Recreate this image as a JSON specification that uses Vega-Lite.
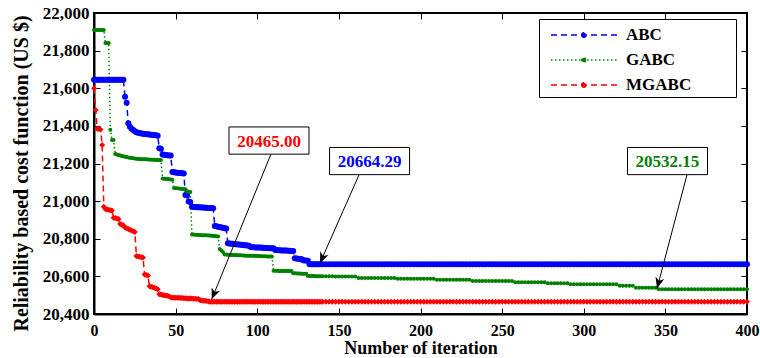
{
"$schema":"https://vega.github.io/schema/vega-lite/v6.json",
"width":653,"height":301,
"autosize":{"type":"none"},
"padding":{"left":94,"top":13,"right":13,"bottom":44},
"background":"white",
"config":{
 "view":{"stroke":"black","strokeWidth":2},
 "axis":{"labelFont":"Liberation Serif","labelFontSize":16,"labelFontWeight":"bold","labelColor":"black","labelFlush":false,"titleFont":"Liberation Serif","titleFontSize":18,"titleFontWeight":"bold","titleColor":"black","domainColor":"black","domainWidth":2,"tickColor":"black","tickWidth":1,"tickSize":-6,"grid":false},
 "legend":{"orient":"none","legendX":445,"legendY":6,"padding":4,"strokeColor":"black","fillColor":"white","symbolType":"M-3,0H3M-0.2,0A0.2,0.2 0 1,0 0.2,0A0.2,0.2 0 1,0 -0.2,0M13.15,0L13.15,0","symbolSize":484,"symbolStrokeWidth":1.5,"symbolOffset":29,"labelOffset":30,"labelFont":"Liberation Serif","labelFontSize":17,"labelFontWeight":"bold","labelColor":"black","rowPadding":5}
},
"datasets":{
"conv":[
{"i":0,"ABC":21645,"GABC":21910,"MGABC":21600},
{"i":1,"ABC":21645,"GABC":21910,"MGABC":21484},
{"i":2,"ABC":21645,"GABC":21910,"MGABC":21385},
{"i":3,"ABC":21645,"GABC":21910,"MGABC":21383},
{"i":4,"ABC":21645,"GABC":21910,"MGABC":21381},
{"i":5,"ABC":21645,"GABC":21910,"MGABC":21298},
{"i":6,"ABC":21645,"GABC":21910,"MGABC":20970},
{"i":7,"ABC":21645,"GABC":21840,"MGABC":20958},
{"i":8,"ABC":21645,"GABC":21840,"MGABC":20956},
{"i":9,"ABC":21645,"GABC":21840,"MGABC":20954},
{"i":10,"ABC":21645,"GABC":21380,"MGABC":20952},
{"i":11,"ABC":21645,"GABC":21325,"MGABC":20950},
{"i":12,"ABC":21645,"GABC":21325,"MGABC":20912},
{"i":13,"ABC":21645,"GABC":21250,"MGABC":20910},
{"i":14,"ABC":21645,"GABC":21248,"MGABC":20908},
{"i":15,"ABC":21645,"GABC":21245,"MGABC":20905},
{"i":16,"ABC":21645,"GABC":21243,"MGABC":20878},
{"i":17,"ABC":21645,"GABC":21240,"MGABC":20875},
{"i":18,"ABC":21645,"GABC":21238,"MGABC":20872},
{"i":19,"ABC":21555,"GABC":21236,"MGABC":20860},
{"i":20,"ABC":21523,"GABC":21234,"MGABC":20856},
{"i":21,"ABC":21414,"GABC":21232,"MGABC":20852},
{"i":22,"ABC":21395,"GABC":21230,"MGABC":20848},
{"i":23,"ABC":21385,"GABC":21229,"MGABC":20844},
{"i":24,"ABC":21378,"GABC":21228,"MGABC":20840},
{"i":25,"ABC":21372,"GABC":21226,"MGABC":20836},
{"i":26,"ABC":21366,"GABC":21225,"MGABC":20708},
{"i":27,"ABC":21364,"GABC":21224,"MGABC":20706},
{"i":28,"ABC":21362,"GABC":21224,"MGABC":20704},
{"i":29,"ABC":21360,"GABC":21223,"MGABC":20702},
{"i":30,"ABC":21358,"GABC":21223,"MGABC":20700},
{"i":31,"ABC":21357,"GABC":21222,"MGABC":20610},
{"i":32,"ABC":21356,"GABC":21222,"MGABC":20607},
{"i":33,"ABC":21355,"GABC":21221,"MGABC":20604},
{"i":34,"ABC":21354,"GABC":21221,"MGABC":20548},
{"i":35,"ABC":21353,"GABC":21220,"MGABC":20545},
{"i":36,"ABC":21352,"GABC":21220,"MGABC":20542},
{"i":37,"ABC":21351,"GABC":21220,"MGABC":20539},
{"i":38,"ABC":21350,"GABC":21219,"MGABC":20536},
{"i":39,"ABC":21348,"GABC":21219,"MGABC":20532},
{"i":40,"ABC":21281,"GABC":21218,"MGABC":20505},
{"i":41,"ABC":21278,"GABC":21218,"MGABC":20503},
{"i":42,"ABC":21248,"GABC":21120,"MGABC":20501},
{"i":43,"ABC":21246,"GABC":21119,"MGABC":20500},
{"i":44,"ABC":21245,"GABC":21118,"MGABC":20499},
{"i":45,"ABC":21244,"GABC":21117,"MGABC":20497},
{"i":46,"ABC":21243,"GABC":21116,"MGABC":20495},
{"i":47,"ABC":21242,"GABC":21115,"MGABC":20488},
{"i":48,"ABC":21155,"GABC":21114,"MGABC":20488},
{"i":49,"ABC":21153,"GABC":21070,"MGABC":20487},
{"i":50,"ABC":21152,"GABC":21069,"MGABC":20487},
{"i":51,"ABC":21151,"GABC":21068,"MGABC":20486},
{"i":52,"ABC":21150,"GABC":21067,"MGABC":20486},
{"i":53,"ABC":21149,"GABC":21066,"MGABC":20485},
{"i":54,"ABC":21148,"GABC":21065,"MGABC":20485},
{"i":55,"ABC":21147,"GABC":21064,"MGABC":20484},
{"i":56,"ABC":21032,"GABC":21063,"MGABC":20484},
{"i":57,"ABC":21030,"GABC":21052,"MGABC":20483},
{"i":58,"ABC":20998,"GABC":21050,"MGABC":20483},
{"i":59,"ABC":20996,"GABC":21048,"MGABC":20482},
{"i":60,"ABC":20970,"GABC":20822,"MGABC":20482},
{"i":61,"ABC":20969,"GABC":20822,"MGABC":20481},
{"i":62,"ABC":20969,"GABC":20821,"MGABC":20481},
{"i":63,"ABC":20968,"GABC":20821,"MGABC":20480},
{"i":64,"ABC":20967,"GABC":20820,"MGABC":20480},
{"i":65,"ABC":20967,"GABC":20820,"MGABC":20473},
{"i":66,"ABC":20966,"GABC":20819,"MGABC":20472},
{"i":67,"ABC":20966,"GABC":20819,"MGABC":20471},
{"i":68,"ABC":20965,"GABC":20818,"MGABC":20470},
{"i":69,"ABC":20965,"GABC":20818,"MGABC":20469},
{"i":70,"ABC":20964,"GABC":20817,"MGABC":20468},
{"i":71,"ABC":20964,"GABC":20817,"MGABC":20465},
{"i":72,"ABC":20963,"GABC":20816,"MGABC":20465},
{"i":73,"ABC":20962,"GABC":20815,"MGABC":20465},
{"i":74,"ABC":20868,"GABC":20814,"MGABC":20465},
{"i":75,"ABC":20866,"GABC":20813,"MGABC":20465},
{"i":76,"ABC":20864,"GABC":20812,"MGABC":20465},
{"i":77,"ABC":20862,"GABC":20745,"MGABC":20465},
{"i":78,"ABC":20860,"GABC":20738,"MGABC":20465},
{"i":79,"ABC":20858,"GABC":20730,"MGABC":20465},
{"i":80,"ABC":20856,"GABC":20716,"MGABC":20465},
{"i":81,"ABC":20854,"GABC":20716,"MGABC":20465},
{"i":82,"ABC":20776,"GABC":20715,"MGABC":20465},
{"i":83,"ABC":20775,"GABC":20715,"MGABC":20465},
{"i":84,"ABC":20774,"GABC":20714,"MGABC":20465},
{"i":85,"ABC":20773,"GABC":20714,"MGABC":20465},
{"i":86,"ABC":20772,"GABC":20713,"MGABC":20465},
{"i":87,"ABC":20771,"GABC":20713,"MGABC":20465},
{"i":88,"ABC":20770,"GABC":20712,"MGABC":20465},
{"i":89,"ABC":20769,"GABC":20712,"MGABC":20465},
{"i":90,"ABC":20768,"GABC":20712,"MGABC":20465},
{"i":91,"ABC":20767,"GABC":20711,"MGABC":20465},
{"i":92,"ABC":20766,"GABC":20711,"MGABC":20465},
{"i":93,"ABC":20765,"GABC":20710,"MGABC":20465},
{"i":94,"ABC":20764,"GABC":20710,"MGABC":20465},
{"i":95,"ABC":20763,"GABC":20710,"MGABC":20465},
{"i":96,"ABC":20756,"GABC":20709,"MGABC":20465},
{"i":97,"ABC":20755,"GABC":20709,"MGABC":20465},
{"i":98,"ABC":20755,"GABC":20709,"MGABC":20465},
{"i":99,"ABC":20754,"GABC":20708,"MGABC":20465},
{"i":100,"ABC":20754,"GABC":20708,"MGABC":20465},
{"i":101,"ABC":20753,"GABC":20708,"MGABC":20465},
{"i":102,"ABC":20753,"GABC":20707,"MGABC":20465},
{"i":103,"ABC":20752,"GABC":20707,"MGABC":20465},
{"i":104,"ABC":20752,"GABC":20707,"MGABC":20465},
{"i":105,"ABC":20751,"GABC":20707,"MGABC":20465},
{"i":106,"ABC":20751,"GABC":20706,"MGABC":20465},
{"i":107,"ABC":20750,"GABC":20706,"MGABC":20465},
{"i":108,"ABC":20750,"GABC":20706,"MGABC":20465},
{"i":109,"ABC":20749,"GABC":20706,"MGABC":20465},
{"i":110,"ABC":20749,"GABC":20630,"MGABC":20465},
{"i":111,"ABC":20740,"GABC":20630,"MGABC":20465},
{"i":112,"ABC":20740,"GABC":20630,"MGABC":20465},
{"i":113,"ABC":20739,"GABC":20629,"MGABC":20465},
{"i":114,"ABC":20739,"GABC":20629,"MGABC":20465},
{"i":115,"ABC":20738,"GABC":20629,"MGABC":20465},
{"i":116,"ABC":20738,"GABC":20629,"MGABC":20465},
{"i":117,"ABC":20737,"GABC":20628,"MGABC":20465},
{"i":118,"ABC":20737,"GABC":20628,"MGABC":20465},
{"i":119,"ABC":20736,"GABC":20628,"MGABC":20465},
{"i":120,"ABC":20736,"GABC":20628,"MGABC":20465},
{"i":121,"ABC":20735,"GABC":20628,"MGABC":20465},
{"i":122,"ABC":20735,"GABC":20616,"MGABC":20465},
{"i":123,"ABC":20697,"GABC":20616,"MGABC":20465},
{"i":124,"ABC":20695,"GABC":20615,"MGABC":20465},
{"i":125,"ABC":20694,"GABC":20615,"MGABC":20465},
{"i":126,"ABC":20693,"GABC":20615,"MGABC":20465},
{"i":127,"ABC":20692,"GABC":20614,"MGABC":20465},
{"i":128,"ABC":20686,"GABC":20614,"MGABC":20465},
{"i":129,"ABC":20685,"GABC":20614,"MGABC":20465},
{"i":130,"ABC":20684,"GABC":20614,"MGABC":20465},
{"i":131,"ABC":20683,"GABC":20602,"MGABC":20465},
{"i":132,"ABC":20664.29,"GABC":20602,"MGABC":20465},
{"i":133,"ABC":20664.29,"GABC":20602,"MGABC":20465},
{"i":134,"ABC":20664.29,"GABC":20602,"MGABC":20465},
{"i":135,"ABC":20664.29,"GABC":20602,"MGABC":20465},
{"i":136,"ABC":20664.29,"GABC":20601,"MGABC":20465},
{"i":137,"ABC":20664.29,"GABC":20601,"MGABC":20465},
{"i":138,"ABC":20664.29,"GABC":20601,"MGABC":20465},
{"i":139,"ABC":20664.29,"GABC":20601,"MGABC":20465},
{"i":140,"ABC":20664.29,"GABC":20601,"MGABC":20465},
{"i":142,"ABC":20664.29,"GABC":20601,"MGABC":20465},
{"i":144,"ABC":20664.29,"GABC":20601,"MGABC":20465},
{"i":146,"ABC":20664.29,"GABC":20601,"MGABC":20465},
{"i":148,"ABC":20664.29,"GABC":20600,"MGABC":20465},
{"i":150,"ABC":20664.29,"GABC":20600,"MGABC":20465},
{"i":152,"ABC":20664.29,"GABC":20600,"MGABC":20465},
{"i":154,"ABC":20664.29,"GABC":20600,"MGABC":20465},
{"i":156,"ABC":20664.29,"GABC":20600,"MGABC":20465},
{"i":158,"ABC":20664.29,"GABC":20600,"MGABC":20465},
{"i":160,"ABC":20664.29,"GABC":20600,"MGABC":20465},
{"i":162,"ABC":20664.29,"GABC":20592,"MGABC":20465},
{"i":164,"ABC":20664.29,"GABC":20592,"MGABC":20465},
{"i":166,"ABC":20664.29,"GABC":20592,"MGABC":20465},
{"i":168,"ABC":20664.29,"GABC":20592,"MGABC":20465},
{"i":170,"ABC":20664.29,"GABC":20592,"MGABC":20465},
{"i":172,"ABC":20664.29,"GABC":20592,"MGABC":20465},
{"i":174,"ABC":20664.29,"GABC":20592,"MGABC":20465},
{"i":176,"ABC":20664.29,"GABC":20592,"MGABC":20465},
{"i":178,"ABC":20664.29,"GABC":20592,"MGABC":20465},
{"i":180,"ABC":20664.29,"GABC":20592,"MGABC":20465},
{"i":182,"ABC":20664.29,"GABC":20592,"MGABC":20465},
{"i":184,"ABC":20664.29,"GABC":20592,"MGABC":20465},
{"i":186,"ABC":20664.29,"GABC":20588,"MGABC":20465},
{"i":188,"ABC":20664.29,"GABC":20588,"MGABC":20465},
{"i":190,"ABC":20664.29,"GABC":20588,"MGABC":20465},
{"i":192,"ABC":20664.29,"GABC":20588,"MGABC":20465},
{"i":194,"ABC":20664.29,"GABC":20588,"MGABC":20465},
{"i":196,"ABC":20664.29,"GABC":20588,"MGABC":20465},
{"i":198,"ABC":20664.29,"GABC":20588,"MGABC":20465},
{"i":200,"ABC":20664.29,"GABC":20588,"MGABC":20465},
{"i":202,"ABC":20664.29,"GABC":20588,"MGABC":20465},
{"i":204,"ABC":20664.29,"GABC":20588,"MGABC":20465},
{"i":206,"ABC":20664.29,"GABC":20588,"MGABC":20465},
{"i":208,"ABC":20664.29,"GABC":20588,"MGABC":20465},
{"i":210,"ABC":20664.29,"GABC":20582,"MGABC":20465},
{"i":212,"ABC":20664.29,"GABC":20582,"MGABC":20465},
{"i":214,"ABC":20664.29,"GABC":20582,"MGABC":20465},
{"i":216,"ABC":20664.29,"GABC":20582,"MGABC":20465},
{"i":218,"ABC":20664.29,"GABC":20582,"MGABC":20465},
{"i":220,"ABC":20664.29,"GABC":20582,"MGABC":20465},
{"i":222,"ABC":20664.29,"GABC":20582,"MGABC":20465},
{"i":224,"ABC":20664.29,"GABC":20582,"MGABC":20465},
{"i":226,"ABC":20664.29,"GABC":20582,"MGABC":20465},
{"i":228,"ABC":20664.29,"GABC":20582,"MGABC":20465},
{"i":230,"ABC":20664.29,"GABC":20582,"MGABC":20465},
{"i":232,"ABC":20664.29,"GABC":20575,"MGABC":20465},
{"i":234,"ABC":20664.29,"GABC":20575,"MGABC":20465},
{"i":236,"ABC":20664.29,"GABC":20575,"MGABC":20465},
{"i":238,"ABC":20664.29,"GABC":20575,"MGABC":20465},
{"i":240,"ABC":20664.29,"GABC":20575,"MGABC":20465},
{"i":242,"ABC":20664.29,"GABC":20575,"MGABC":20465},
{"i":244,"ABC":20664.29,"GABC":20575,"MGABC":20465},
{"i":246,"ABC":20664.29,"GABC":20575,"MGABC":20465},
{"i":248,"ABC":20664.29,"GABC":20575,"MGABC":20465},
{"i":250,"ABC":20664.29,"GABC":20575,"MGABC":20465},
{"i":252,"ABC":20664.29,"GABC":20575,"MGABC":20465},
{"i":254,"ABC":20664.29,"GABC":20575,"MGABC":20465},
{"i":256,"ABC":20664.29,"GABC":20575,"MGABC":20465},
{"i":258,"ABC":20664.29,"GABC":20569,"MGABC":20465},
{"i":260,"ABC":20664.29,"GABC":20569,"MGABC":20465},
{"i":262,"ABC":20664.29,"GABC":20569,"MGABC":20465},
{"i":264,"ABC":20664.29,"GABC":20569,"MGABC":20465},
{"i":266,"ABC":20664.29,"GABC":20569,"MGABC":20465},
{"i":268,"ABC":20664.29,"GABC":20569,"MGABC":20465},
{"i":270,"ABC":20664.29,"GABC":20569,"MGABC":20465},
{"i":272,"ABC":20664.29,"GABC":20569,"MGABC":20465},
{"i":274,"ABC":20664.29,"GABC":20569,"MGABC":20465},
{"i":276,"ABC":20664.29,"GABC":20569,"MGABC":20465},
{"i":278,"ABC":20664.29,"GABC":20563,"MGABC":20465},
{"i":280,"ABC":20664.29,"GABC":20563,"MGABC":20465},
{"i":282,"ABC":20664.29,"GABC":20563,"MGABC":20465},
{"i":284,"ABC":20664.29,"GABC":20563,"MGABC":20465},
{"i":286,"ABC":20664.29,"GABC":20563,"MGABC":20465},
{"i":288,"ABC":20664.29,"GABC":20563,"MGABC":20465},
{"i":290,"ABC":20664.29,"GABC":20563,"MGABC":20465},
{"i":292,"ABC":20664.29,"GABC":20558,"MGABC":20465},
{"i":294,"ABC":20664.29,"GABC":20558,"MGABC":20465},
{"i":296,"ABC":20664.29,"GABC":20558,"MGABC":20465},
{"i":298,"ABC":20664.29,"GABC":20558,"MGABC":20465},
{"i":300,"ABC":20664.29,"GABC":20558,"MGABC":20465},
{"i":302,"ABC":20664.29,"GABC":20558,"MGABC":20465},
{"i":304,"ABC":20664.29,"GABC":20558,"MGABC":20465},
{"i":306,"ABC":20664.29,"GABC":20558,"MGABC":20465},
{"i":308,"ABC":20664.29,"GABC":20558,"MGABC":20465},
{"i":310,"ABC":20664.29,"GABC":20558,"MGABC":20465},
{"i":312,"ABC":20664.29,"GABC":20558,"MGABC":20465},
{"i":314,"ABC":20664.29,"GABC":20558,"MGABC":20465},
{"i":316,"ABC":20664.29,"GABC":20558,"MGABC":20465},
{"i":318,"ABC":20664.29,"GABC":20558,"MGABC":20465},
{"i":320,"ABC":20664.29,"GABC":20558,"MGABC":20465},
{"i":322,"ABC":20664.29,"GABC":20550,"MGABC":20465},
{"i":324,"ABC":20664.29,"GABC":20550,"MGABC":20465},
{"i":326,"ABC":20664.29,"GABC":20550,"MGABC":20465},
{"i":328,"ABC":20664.29,"GABC":20550,"MGABC":20465},
{"i":330,"ABC":20664.29,"GABC":20550,"MGABC":20465},
{"i":332,"ABC":20664.29,"GABC":20540,"MGABC":20465},
{"i":334,"ABC":20664.29,"GABC":20540,"MGABC":20465},
{"i":336,"ABC":20664.29,"GABC":20540,"MGABC":20465},
{"i":338,"ABC":20664.29,"GABC":20540,"MGABC":20465},
{"i":340,"ABC":20664.29,"GABC":20540,"MGABC":20465},
{"i":342,"ABC":20664.29,"GABC":20540,"MGABC":20465},
{"i":344,"ABC":20664.29,"GABC":20540,"MGABC":20465},
{"i":346,"ABC":20664.29,"GABC":20532.15,"MGABC":20465},
{"i":348,"ABC":20664.29,"GABC":20532.15,"MGABC":20465},
{"i":350,"ABC":20664.29,"GABC":20532.15,"MGABC":20465},
{"i":352,"ABC":20664.29,"GABC":20532.15,"MGABC":20465},
{"i":354,"ABC":20664.29,"GABC":20532.15,"MGABC":20465},
{"i":356,"ABC":20664.29,"GABC":20532.15,"MGABC":20465},
{"i":358,"ABC":20664.29,"GABC":20532.15,"MGABC":20465},
{"i":360,"ABC":20664.29,"GABC":20532.15,"MGABC":20465},
{"i":362,"ABC":20664.29,"GABC":20532.15,"MGABC":20465},
{"i":364,"ABC":20664.29,"GABC":20532.15,"MGABC":20465},
{"i":366,"ABC":20664.29,"GABC":20532.15,"MGABC":20465},
{"i":368,"ABC":20664.29,"GABC":20532.15,"MGABC":20465},
{"i":370,"ABC":20664.29,"GABC":20532.15,"MGABC":20465},
{"i":372,"ABC":20664.29,"GABC":20532.15,"MGABC":20465},
{"i":374,"ABC":20664.29,"GABC":20532.15,"MGABC":20465},
{"i":376,"ABC":20664.29,"GABC":20532.15,"MGABC":20465},
{"i":378,"ABC":20664.29,"GABC":20532.15,"MGABC":20465},
{"i":380,"ABC":20664.29,"GABC":20532.15,"MGABC":20465},
{"i":382,"ABC":20664.29,"GABC":20532.15,"MGABC":20465},
{"i":384,"ABC":20664.29,"GABC":20532.15,"MGABC":20465},
{"i":386,"ABC":20664.29,"GABC":20532.15,"MGABC":20465},
{"i":388,"ABC":20664.29,"GABC":20532.15,"MGABC":20465},
{"i":390,"ABC":20664.29,"GABC":20532.15,"MGABC":20465},
{"i":392,"ABC":20664.29,"GABC":20532.15,"MGABC":20465},
{"i":394,"ABC":20664.29,"GABC":20532.15,"MGABC":20465},
{"i":396,"ABC":20664.29,"GABC":20532.15,"MGABC":20465},
{"i":398,"ABC":20664.29,"GABC":20532.15,"MGABC":20465},
{"i":400,"ABC":20664.29,"GABC":20532.15,"MGABC":20465}
],
"notes":[
{"label":"20465.00","series":"MGABC","bx":107.2,"by":21322,"ax":108.4,"ay":21250,"tx":72.1,"ty":20478},
{"label":"20664.29","series":"ABC","bx":168.8,"by":21213,"ax":162.3,"ay":21139,"tx":138.4,"ty":20670},
{"label":"20532.15","series":"GABC","bx":351.3,"by":21213,"ax":363.2,"ay":21139,"tx":344.9,"ty":20536}
]
},
"layer":[
 {"data":{"name":"conv"},"transform":[{"fold":["ABC","GABC","MGABC"],"as":["series","cost"]}],
  "mark":{"type":"line","strokeWidth":1.5},
  "encoding":{
   "x":{"field":"i","type":"quantitative","scale":{"domain":[0,400],"nice":false},"axis":{"values":[0,50,100,150,200,250,300,350,400],"format":"d","title":"Number of iteration","labelPadding":14,"titlePadding":1}},
   "y":{"field":"cost","type":"quantitative","scale":{"domain":[20400,22000],"nice":false,"zero":false},"axis":{"values":[20400,20600,20800,21000,21200,21400,21600,21800,22000],"format":",d","title":"Reliability based cost function (US $)","labelPadding":11,"labelFontSize":17,"titlePadding":11,"titleFontSize":20,"titleY":160}},
   "color":{"field":"series","type":"nominal","scale":{"domain":["ABC","GABC","MGABC"],"range":["#0000ff","#008000","#ff0000"]},"legend":{"title":null}},
   "strokeDash":{"field":"series","type":"nominal","scale":{"domain":["ABC","GABC","MGABC"],"range":[[6,4],[1.5,2.5],[6,4]]},"legend":{"title":null}}
  }},
 {"data":{"name":"conv"},"transform":[{"fold":["ABC","GABC","MGABC"],"as":["series","cost"]},{"filter":"datum.series == 'ABC'"}],
  "mark":{"type":"point","filled":true,"opacity":1,"size":36,"shape":"circle","color":"#0000ff"},
  "encoding":{"x":{"field":"i","type":"quantitative","axis":null},"y":{"field":"cost","type":"quantitative","axis":null}}},
 {"data":{"name":"conv"},"transform":[{"fold":["ABC","GABC","MGABC"],"as":["series","cost"]},{"filter":"datum.series == 'GABC'"}],
  "mark":{"type":"point","filled":true,"opacity":1,"size":16,"shape":"circle","color":"#008000"},
  "encoding":{"x":{"field":"i","type":"quantitative","axis":null},"y":{"field":"cost","type":"quantitative","axis":null}}},
 {"data":{"name":"conv"},"transform":[{"fold":["ABC","GABC","MGABC"],"as":["series","cost"]},{"filter":"datum.series == 'MGABC'"}],
  "mark":{"type":"point","filled":true,"opacity":1,"size":36,"shape":"diamond","color":"#ff0000"},
  "encoding":{"x":{"field":"i","type":"quantitative","axis":null},"y":{"field":"cost","type":"quantitative","axis":null}}},
 {"data":{"name":"notes"},
  "mark":{"type":"rule","color":"black","strokeWidth":1},
  "encoding":{
   "x":{"field":"ax","type":"quantitative","axis":{"orient":"top","labels":false,"domain":false,"title":null,"values":[0,50,100,150,200,250,300,350,400]}},
   "y":{"field":"ay","type":"quantitative","axis":{"orient":"right","labels":false,"domain":false,"title":null,"values":[20400,20600,20800,21000,21200,21400,21600,21800,22000]}},
   "x2":{"field":"tx"},"y2":{"field":"ty"}
  }},
 {"data":{"name":"notes"},"transform":[{"filter":"datum.series == 'MGABC'"}],
  "mark":{"type":"point","shape":"M0,0L-0.45,1.1L0,0.8L0.45,1.1Z","size":400,"angle":202.2,"filled":true,"color":"black","opacity":1},
  "encoding":{"x":{"field":"tx","type":"quantitative","axis":null},"y":{"field":"ty","type":"quantitative","axis":null}}},
 {"data":{"name":"notes"},"transform":[{"filter":"datum.series == 'ABC'"}],
  "mark":{"type":"point","shape":"M0,0L-0.45,1.1L0,0.8L0.45,1.1Z","size":400,"angle":203.8,"filled":true,"color":"black","opacity":1},
  "encoding":{"x":{"field":"tx","type":"quantitative","axis":null},"y":{"field":"ty","type":"quantitative","axis":null}}},
 {"data":{"name":"notes"},"transform":[{"filter":"datum.series == 'GABC'"}],
  "mark":{"type":"point","shape":"M0,0L-0.45,1.1L0,0.8L0.45,1.1Z","size":400,"angle":194.8,"filled":true,"color":"black","opacity":1},
  "encoding":{"x":{"field":"tx","type":"quantitative","axis":null},"y":{"field":"ty","type":"quantitative","axis":null}}},
 {"data":{"name":"notes"},
  "mark":{"type":"point","shape":"M-1,-0.34H1V0.34H-1Z","size":6400,"filled":true,"fill":"white","stroke":"black","strokeWidth":1,"opacity":1},
  "encoding":{"x":{"field":"bx","type":"quantitative","axis":null},"y":{"field":"by","type":"quantitative","axis":null}}},
 {"data":{"name":"notes"},
  "mark":{"type":"text","font":"Liberation Serif","fontSize":17,"fontWeight":"bold","align":"center","baseline":"middle","dy":1},
  "encoding":{"x":{"field":"bx","type":"quantitative","axis":null},"y":{"field":"by","type":"quantitative","axis":null},"text":{"field":"label"},"color":{"field":"series","type":"nominal","legend":null}}}
],
"resolve":{"axis":{"x":"independent","y":"independent"}}
}
